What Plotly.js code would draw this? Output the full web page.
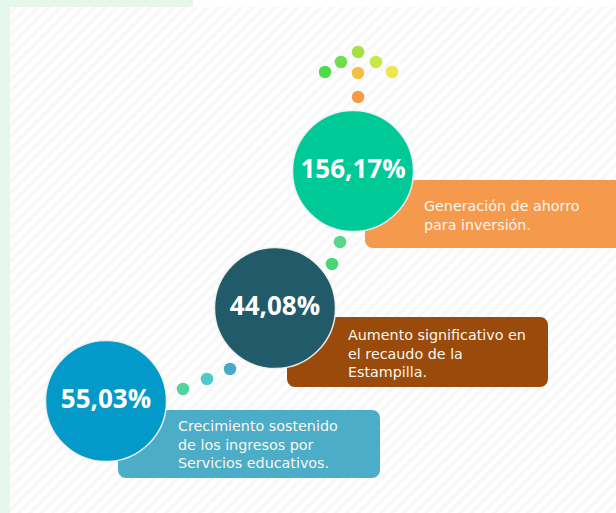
<!DOCTYPE html>
<html>
<head>
<meta charset="utf-8">
<script src="https://cdn.plot.ly/plotly-3.0.1.min.js"></script>
<style>html,body{margin:0;padding:0;background:#fff;}#chart{width:616px;height:513px;}</style>
</head>
<body>
<div id="chart"></div>
<script>
// ---- data ----
const values = ["55,03%", "44,08%", "156,17%"];
const descriptions = [
  ["Crecimiento sostenido", "de los ingresos por", "Servicios educativos."],
  ["Aumento significativo en", "el recaudo de la", "Estampilla."],
  ["Generación de ahorro", "para inversión."]
];

// ---- layout (positions / styles) ----
const circleX = [106, 275, 353];
const circleY = [401, 308, 171];
const circleColors = ["#0399c9", "#215a69", "#00c998"];
const boxes = [[118, 410, 380, 478], [287, 317, 548, 387], [365, 180, 630, 248]];
const boxColors = ["#4badc7", "#9a4a0a", "#f5994c"];
const textX = [176, 346, 422];
const textYc = [444, 353, 215];

const dotX = [183, 207, 230, 332, 340, 358, 358, 325, 341, 358, 376, 392];
const dotY = [389, 379, 369, 264, 242, 97, 73, 72, 62, 52, 62, 72];
const dotColors = ["#4fd49e", "#4ccac8", "#4aa8c9", "#45d872", "#5bd58a",
  "#f59a48", "#f2c048", "#4cdc4c", "#6ede4a", "#a2e043", "#c8e848", "#f0e64a"];

function roundRect(x0, y0, x1, y1, r) {
  const xs = [], ys = [];
  const corners = [[x1 - r, y0 + r, -90], [x1 - r, y1 - r, 0], [x0 + r, y1 - r, 90], [x0 + r, y0 + r, 180]];
  corners.forEach(([cx, cy, a0]) => {
    for (let i = 0; i <= 8; i++) {
      const a = (a0 + i * 90 / 8) * Math.PI / 180;
      xs.push(cx + r * Math.cos(a));
      ys.push(cy + r * Math.sin(a));
    }
  });
  xs.push(xs[0]); ys.push(ys[0]);
  return {x: xs, y: ys};
}

const traces = [];
// striped background
traces.push({
  type: "scatter", mode: "lines", x: [10, 616, 616, 10, 10], y: [7, 7, 513, 513, 7],
  fill: "toself", fillcolor: "#ffffff", line: {width: 0, color: "rgba(0,0,0,0)"},
  fillpattern: {shape: "/", fgcolor: "#f7f7f7", bgcolor: "#ffffff", size: 8, solidity: 0.4},
  hoverinfo: "skip", showlegend: false
});
// boxes
boxes.forEach((b, i) => {
  const p = roundRect(b[0], b[1], b[2], b[3], 8);
  traces.push({type: "scatter", mode: "lines", x: p.x, y: p.y, fill: "toself",
    fillcolor: boxColors[i], line: {width: 0, color: boxColors[i]}, hoverinfo: "skip", showlegend: false});
});
// dots
traces.push({type: "scatter", mode: "markers", x: dotX, y: dotY,
  marker: {size: 12.5, color: dotColors, line: {width: 0}}, hoverinfo: "skip", showlegend: false});
// circles
traces.push({type: "scatter", mode: "markers+text", x: circleX, y: circleY, text: values,
  textposition: "middle center",
  textfont: {family: "Open Sans", size: 26, color: "#ffffff", weight: "bold"},
  marker: {size: 121, color: circleColors, line: {width: 1.5, color: "rgba(240,240,240,0.95)"}},
  hoverinfo: "skip", showlegend: false});

const annotations = descriptions.map((lines, i) => ({
  x: textX[i], y: textYc[i], xref: "x", yref: "y",
  text: lines.join("<br>"), showarrow: false, xanchor: "left", yanchor: "middle", align: "left",
  font: {family: "DejaVu Sans", size: 14.3, color: "#fdf6ee"}
}));

const layout = {
  width: 616, height: 513,
  margin: {l: 0, r: 0, t: 0, b: 0, pad: 0},
  paper_bgcolor: "#ffffff", plot_bgcolor: "#ffffff",
  xaxis: {range: [0, 616], visible: false, fixedrange: true},
  yaxis: {range: [513, 0], visible: false, fixedrange: true},
  showlegend: false,
  shapes: [
    {type: "rect", xref: "x", yref: "y", x0: 0, x1: 10, y0: 0, y1: 513, fillcolor: "#e6f8ee", line: {width: 0}, layer: "below"},
    {type: "rect", xref: "x", yref: "y", x0: 0, x1: 193, y0: 0, y1: 7, fillcolor: "#e6f8ee", line: {width: 0}, layer: "below"}
  ],
  annotations: annotations
};

Plotly.newPlot("chart", traces, layout, {displayModeBar: false, staticPlot: true});
</script>
</body>
</html>
